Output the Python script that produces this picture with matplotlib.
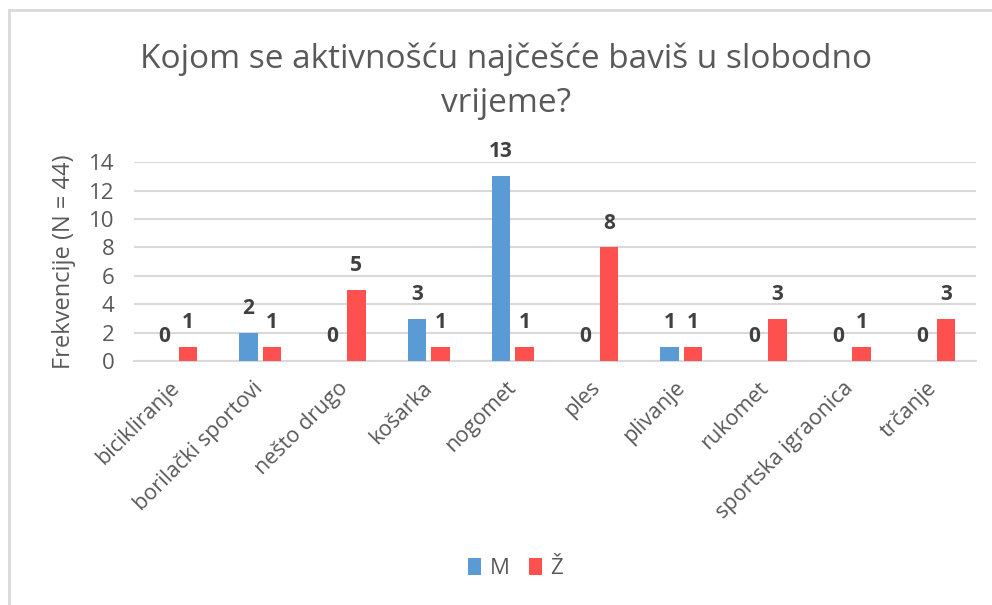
import numpy as np
import matplotlib
matplotlib.use("Agg")
import matplotlib.pyplot as plt
from matplotlib.lines import Line2D

categories = ["bicikliranje", "borilački sportovi", "nešto drugo", "košarka", "nogomet",
              "ples", "plivanje", "rukomet", "sportska igraonica", "trčanje"]
m_vals = [0, 2, 0, 3, 13, 0, 1, 0, 0, 0]
z_vals = [1, 1, 5, 1, 1, 8, 1, 3, 1, 3]
series_names = ["M", "Ž"]
title = "Kojom se aktivnošću najčešće baviš u slobodno\nvrijeme?"
ylabel = "Frekvencije (N = 44)"

blue = "#5B9BD5"
red = "#FF5050"
txt = "#595959"

plt.rcParams['font.family'] = ['Open Sans', 'DejaVu Sans']

fig = plt.figure(figsize=(9.92, 6.05), dpi=100)
ax = fig.add_axes([0.135, 0.403, 0.849, 0.329])

# chart frame (top and left edges visible)
fig.add_artist(Line2D([9 / 992, 9 / 992], [0, 1 - 10 / 605], transform=fig.transFigure,
                      color="#D9D9D9", lw=2))
fig.add_artist(Line2D([9 / 992, 1], [1 - 10 / 605, 1 - 10 / 605], transform=fig.transFigure,
                      color="#D9D9D9", lw=2))

x = np.arange(len(categories))
w = 0.22
off = 0.14
b1 = ax.bar(x - off, m_vals, w, color=blue, label=series_names[0], zorder=3)
b2 = ax.bar(x + off, z_vals, w, color=red, label=series_names[1], zorder=3)

for bars, vals in ((b1, m_vals), (b2, z_vals)):
    for rect, v in zip(bars, vals):
        ax.annotate(str(v), (rect.get_x() + rect.get_width() / 2, v),
                    xytext=(0, 10), textcoords="offset points", ha="center", va="bottom",
                    fontsize=15, fontweight="bold", color="#404040")

ax.set_xlim(-0.5, len(categories) - 0.5)
ax.set_ylim(0, 14)
ax.set_yticks(range(0, 15, 2))
ax.yaxis.grid(True, color="#D9D9D9", lw=1.5, zorder=0)
ax.set_axisbelow(True)
for s in ["top", "right", "left"]:
    ax.spines[s].set_visible(False)
ax.spines["bottom"].set_color("#D9D9D9")
ax.spines["bottom"].set_linewidth(1.5)
ax.tick_params(axis="both", length=0, colors=txt, labelsize=16)
ax.tick_params(axis="y", pad=14)
ax.tick_params(axis="x", pad=17)
ax.set_xticks(x)
ax.set_xticklabels(categories, rotation=45, ha="right", va="center", rotation_mode="anchor",
                   fontsize=15.5, color=txt)
ax.set_ylabel(ylabel, fontsize=17, color=txt, labelpad=9)

fig.text(0.51, 0.866, title, ha="center", va="center", fontsize=24, color=txt,
         linespacing=1.42)

leg = fig.legend(handles=[b1, b2], labels=series_names, loc="center",
                 bbox_to_anchor=(0.52, 0.06), ncol=2, frameon=False, fontsize=16,
                 handlelength=0.55, handleheight=0.8, handletextpad=0.4, columnspacing=0.9)
for t in leg.get_texts():
    t.set_color(txt)

fig.savefig("out.png", dpi=100, facecolor="white")
